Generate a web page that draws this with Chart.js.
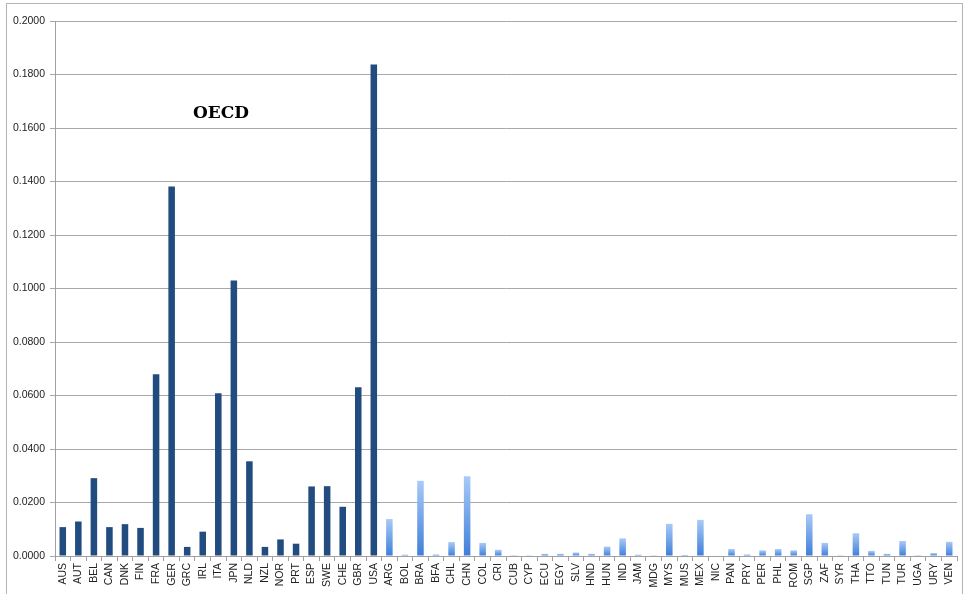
<!DOCTYPE html>
<html>
<head>
<meta charset="utf-8">
<script src="https://cdn.jsdelivr.net/npm/chart.js@4/dist/chart.umd.min.js"></script>
<style>
  html, body { margin: 0; padding: 0; background: #fff; }
  #frame { position: absolute; left: 6px; top: 3px; width: 955px; height: 620px;
           border: 1px solid #b4b4b4; border-bottom: none; }
  #wrap { position: absolute; left: 0; top: 0; width: 964px; height: 594px; }
</style>
</head>
<body>
<div id="frame"></div>
<div id="wrap"><canvas id="myChart"></canvas></div>
<script>
// country codes, OECD ones first
const countries = ["AUS","AUT","BEL","CAN","DNK","FIN","FRA","GER","GRC","IRL","ITA","JPN","NLD","NZL","NOR","PRT","ESP","SWE","CHE","GBR","USA",
  "ARG","BOL","BRA","BFA","CHL","CHN","COL","CRI","CUB","CYP","ECU","EGY","SLV","HND","HUN","IND","JAM","MDG","MYS","MUS","MEX","NIC","PAN","PRY","PER","PHL","ROM","SGP","ZAF","SYR","THA","TTO","TUN","TUR","UGA","URY","VEN"];
const oecd = ["AUS","AUT","BEL","CAN","DNK","FIN","FRA","GER","GRC","IRL","ITA","JPN","NLD","NZL","NOR","PRT","ESP","SWE","CHE","GBR","USA"];
const shares = [0.0108,0.0129,0.0291,0.0108,0.0119,0.0105,0.0679,0.1381,0.0034,0.0091,0.0608,0.1030,0.0354,0.0034,0.0062,0.0046,0.0260,0.0261,0.0184,0.0631,0.1837,
  0.0138,0.0005,0.0281,0.0006,0.0052,0.0298,0.0049,0.0023,0.0003,0.0001,0.0008,0.0008,0.0013,0.0008,0.0035,0.0066,0.0005,0.0001,0.0120,0.0004,0.0135,0.0002,0.0026,0.0006,0.0021,0.0026,0.0021,0.0156,0.0049,0.0001,0.0085,0.0019,0.0008,0.0056,0.0003,0.0011,0.0053];
const yTicks = [0,0.02,0.04,0.06,0.08,0.10,0.12,0.14,0.16,0.18,0.20];
const groupLabel = "OECD";

const barColor = (ctx) => {
  if (oecd.includes(countries[ctx.dataIndex])) return "#224b80";
  const chart = ctx.chart;
  const ys = chart.scales.y;
  if (!ys || !chart.chartArea) return "#6a9fe6";
  const y0 = ys.getPixelForValue(0);
  const y1 = ys.getPixelForValue(shares[ctx.dataIndex]);
  const g = chart.ctx.createLinearGradient(0, y0, 0, Math.min(y1, y0 - 1));
  g.addColorStop(0, "#3f7fd8");
  g.addColorStop(1, "#a8caf8");
  return g;
};

const labelPlugin = {
  id: "groupLabel",
  afterDatasetsDraw(chart) {
    const c = chart.ctx, a = chart.chartArea;
    c.save();
    c.font = "bold 17px 'DejaVu Serif'";
    c.fillStyle = "#000";
    c.textAlign = "center";
    c.textBaseline = "middle";
    c.fillText(groupLabel, a.left + 166, a.top + 93);
    c.restore();
  }
};

new Chart("myChart", {
  type: "bar",
  data: {
    labels: countries,
    datasets: [{
      data: shares,
      backgroundColor: barColor,
      borderWidth: 0,
      barPercentage: 0.42,
      categoryPercentage: 1
    }]
  },
  options: {
    responsive: true,
    maintainAspectRatio: false,
    animation: false,
    layout: { padding: { top: 21, right: 7, left: 0, bottom: 0 } },
    plugins: { legend: { display: false }, tooltip: { enabled: false } },
    scales: {
      x: {
        offset: true,
        grid: { offset: true, drawOnChartArea: false, color: "#a0a0a0", tickLength: 5 },
        border: { color: "#a0a0a0" },
        ticks: { autoSkip: false, maxRotation: 90, minRotation: 90, padding: 2,
                 color: "#222", font: { family: "'Liberation Sans'", size: 10.5 } },
        afterFit(s) { s.height = 38; }
      },
      y: {
        min: 0, max: 0.2,
        afterBuildTicks(s) { s.ticks = yTicks.map(v => ({ value: v })); },
        grid: { color: "#a8a8a8", tickLength: 5 },
        border: { color: "#a0a0a0" },
        ticks: { padding: 5, color: "#222", font: { family: "'Liberation Sans'", size: 10.5 },
                 callback: v => v.toFixed(4) },
        afterFit(s) { s.width = 55; }
      }
    }
  },
  plugins: [labelPlugin]
});
</script>
</body>
</html>
